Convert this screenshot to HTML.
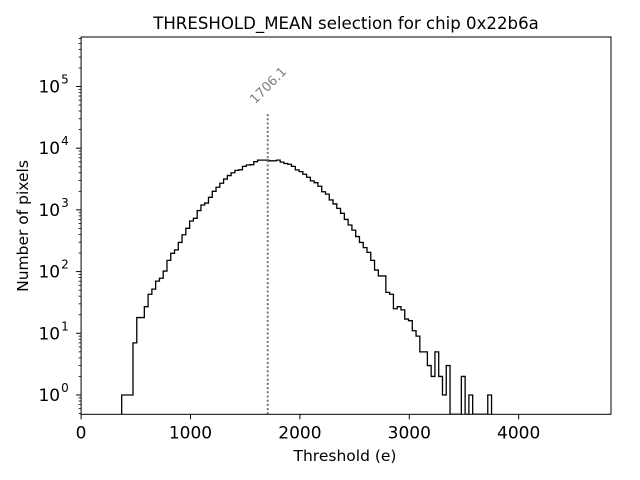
<!DOCTYPE html>
<html><head><meta charset="utf-8"><style>
body{margin:0;background:#fff;}
svg{display:block;font-family:"DejaVu Sans","Liberation Sans",sans-serif;}
</style></head><body>
<svg id="chart" width="640" height="480" viewBox="0 0 640 480">
<rect width="640" height="480" fill="#fff"/>
<text x="346" y="29" text-anchor="middle" font-size="16.6">THRESHOLD_MEAN selection for chip 0x22b6a</text>
<g id="plot"></g>
<text x="345" y="461" text-anchor="middle" font-size="15.5">Threshold (e)</text>
<text transform="translate(28,226) rotate(-90)" text-anchor="middle" font-size="15.5">Number of pixels</text>
</svg>
<script>
const binStart = 371;
const binWidth = 34.5;
const counts = [1,1,1,7,18,18,27,43,52,70,78,102,152,198,225,297,396,503,660,730,976,1200,1290,1600,2000,2330,2700,3160,3600,4000,4370,4460,5070,5340,5400,6040,6400,6400,6400,6250,6250,6400,5950,5650,5500,5070,4450,4170,3780,3380,2950,2760,2420,1970,1800,1450,1250,1060,880,700,570,470,370,297,245,205,152,106,85,85,46,43,25,27,24,17,16,11,9,5,5,3,2,5,2,1,3,0,0,0,2,0,1,0,0,0,0,1];
const xTicks = [0,1000,2000,3000,4000];
const yTicks = [0,1,2,3,4,5];
const meanValue = 1706.1;
const meanLineTop = 38700;

const L=81.1,R=611,T=37,B=414.3;
const xMax=4844;
const X=v=>L+v/xMax*(R-L);
const y0=395, dec=61.7;
const Y=v=>v<=0?B:Math.min(B,y0-Math.log10(v)*dec);
const NS="http://www.w3.org/2000/svg";
const g=document.getElementById('plot');
function mk(t,a){const e=document.createElementNS(NS,t);for(const k in a)e.setAttribute(k,a[k]);g.appendChild(e);return e;}

let d="M"+X(binStart)+","+B;
counts.forEach((c,i)=>{const x0=X(binStart+i*binWidth),x1=X(binStart+(i+1)*binWidth);d+=" L"+x0+","+Y(c)+" L"+x1+","+Y(c);});
d+=" L"+X(binStart+counts.length*binWidth)+","+B;
const cp=mk('clipPath',{id:'clip'});const cr=document.createElementNS(NS,'rect');cr.setAttribute('x',L);cr.setAttribute('y',T);cr.setAttribute('width',R-L);cr.setAttribute('height',B-T);cp.appendChild(cr);
const hist=mk('path',{d:d,fill:'none',stroke:'#000','stroke-width':1.3,'clip-path':'url(#clip)'});



const ml=mk('line',{x1:X(meanValue),x2:X(meanValue),y1:B,y2:Y(meanLineTop),stroke:'#777','stroke-width':2,'stroke-dasharray':'2,2.2'});


const mt=mk('text',{transform:`translate(${X(meanValue)+1},${Y(meanLineTop)-26}) rotate(-45)`,'text-anchor':'middle','dominant-baseline':'middle',fill:'#808080','font-size':13});
mt.textContent=meanValue.toFixed(1);



const fr=mk('rect',{x:L,y:T,width:R-L,height:B-T,fill:'none',stroke:'#000','stroke-width':1});



xTicks.forEach(v=>{
 const tl=mk('line',{x1:X(v),x2:X(v),y1:B,y2:B+5,stroke:'#000'});
 
 
 const tx=mk('text',{x:X(v),y:B+24,'text-anchor':'middle','font-size':17});
 tx.textContent=v;
 
 
});
yTicks.forEach(p=>{
 const y=Y(Math.pow(10,p));
 const tl=mk('line',{x1:L-5,x2:L,y1:y,y2:y,stroke:'#000'});
 
 
 const tx=mk('text',{x:L-21,y:y+6,'text-anchor':'end','font-size':17});
 tx.textContent='10';
 
 
 const sp=mk('text',{x:L-20,y:y-3,'text-anchor':'start','font-size':12});
 sp.textContent=p;
 
 
});
for(let p=-1;p<=5;p++){for(let m=2;m<=9;m++){const v=m*Math.pow(10,p);const y=Y(v);if(y>=T&&y<B){const ml2=mk('line',{x1:L-2.5,x2:L,y1:y,y2:y,stroke:'#000','stroke-width':0.8});
 
 }}}
</script>
</body></html>
